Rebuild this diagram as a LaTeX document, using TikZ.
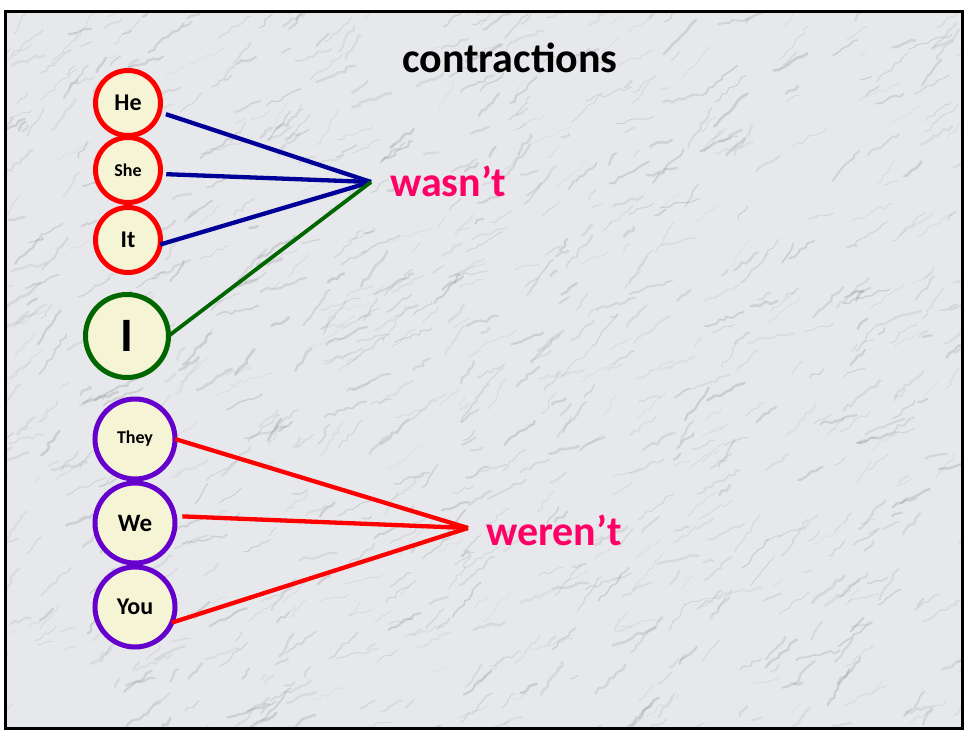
\documentclass[tikz,border=0pt]{standalone}
\usepackage{fontspec}
\setmainfont{Carlito}
\usetikzlibrary{decorations.pathmorphing}
\definecolor{marble}{RGB}{231,232,235}
\definecolor{vein}{RGB}{110,112,120}
\definecolor{cfill}{RGB}{245,245,214}
\definecolor{cred}{RGB}{255,0,0}
\definecolor{cgreen}{RGB}{0,102,0}
\definecolor{cpurple}{RGB}{102,0,204}
\definecolor{cnavy}{RGB}{0,0,153}
\definecolor{cpink}{RGB}{255,0,102}
\tikzset{
  pron/.style={circle, draw, line width=5pt, fill=cfill, inner sep=0pt, outer sep=0pt, text=black},
  upper/.style={pron, draw=cred, minimum size=65pt},
  lower/.style={pron, draw=cpurple, minimum size=80pt},
  ego/.style={pron, draw=cgreen, minimum size=83pt},
  verb/.style={anchor=west, text=cpink, font=\bfseries\fontsize{42}{46}\selectfont, inner sep=0pt},
  navyline/.style={draw=cnavy, line width=4.3pt},
  greenline/.style={draw=cgreen, line width=3.8pt},
  redline/.style={draw=cred, line width=4.3pt},
}
\begin{document}
\begin{tikzpicture}[x=1pt, y=-1pt]
\useasboundingbox (0,0) rectangle (967,731);
\fill[white] (0,0) rectangle (967,731);
\begin{scope}
  \clip (5,11) rectangle (962,728);
  \fill[marble] (5,11) rectangle (962,728);
  \pgfmathsetseed{11}
  \foreach \i in {1,...,1000}{
    \pgfmathsetmacro{\xa}{-20+1000*rnd}
    \pgfmathsetmacro{\ya}{0+740*rnd}
    \pgfmathsetmacro{\len}{8+40*rnd}
    \pgfmathsetmacro{\ang}{-(10+50*rnd)}
    \pgfmathsetmacro{\lw}{0.5+2.2*rnd}
    \pgfmathsetmacro{\op}{0.07+0.16*rnd}
    \draw[vein, opacity=\op, line width=\lw pt, line cap=round, decorate,
          decoration={random steps, segment length=5pt, amplitude=2pt}]
          (\xa,\ya) -- ++(\ang:\len);
  }
\end{scope}
\draw[black, line width=3pt] (5,11) rectangle (962,728);

\node[font=\bfseries\fontsize{42}{46}\selectfont] (title) at (510,58) {contractions};

\node[upper, font=\bfseries\fontsize{24}{26}\selectfont] (he) at (128,103) {He};
\node[upper, font=\bfseries\fontsize{18}{20}\selectfont] (she) at (128,170) {She};
\node[upper, font=\bfseries\fontsize{24}{26}\selectfont] (it) at (128,240) {It};
\node[ego, font=\bfseries\fontsize{48}{52}\selectfont] (i) at (127,336) {I};

\node[lower, font=\bfseries\fontsize{18}{20}\selectfont] (they) at (135,439) {They};
\node[lower, font=\bfseries\fontsize{25}{28}\selectfont] (we) at (135,523) {We};
\node[lower, font=\bfseries\fontsize{24}{26}\selectfont] (you) at (135,607) {You};

\coordinate (w) at (371,182);
\coordinate (r) at (468,528);
\node[verb] (wasnt) at (390,181) {wasn’t};
\node[verb] (werent) at (486,530) {weren’t};

\draw[navyline, shorten <=7pt] (he.-16) -- (w);
\draw[navyline, shorten <=6pt] (she.-7) -- (w);
\draw[navyline] (it.-8) -- (w);
\draw[greenline] (i.east) -- (w);
\draw[redline] (they.east) -- (r);
\draw[redline, shorten <=8pt] (we.10) -- (r);
\draw[redline] (you.-23) -- (r);
\end{tikzpicture}
\end{document}
